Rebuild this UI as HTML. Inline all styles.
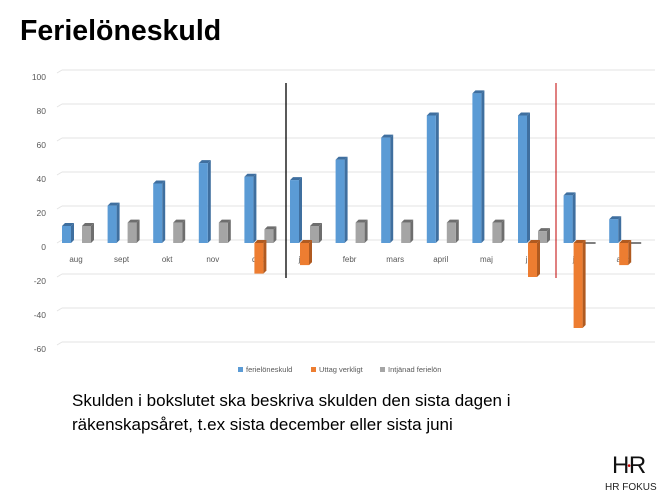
<!DOCTYPE html>
<html><head><meta charset="utf-8"><style>
body{margin:0;width:668px;height:500px;background:#fff;overflow:hidden;font-family:"Liberation Sans",sans-serif;position:relative}
.t{position:absolute;left:20px;top:15px;font-size:28.5px;font-weight:bold;color:#000}
.b{position:absolute;left:72px;top:389px;font-size:17px;line-height:24px;color:#000}
</style></head><body>
<div class="t">Ferielöneskuld</div>
<svg width="668" height="500" style="position:absolute;left:0;top:0">
<g id="g"></g>
</svg>
<div class="b">Skulden i bokslutet ska beskriva skulden den sista dagen i<br>räkenskapsåret, t.ex sista december eller sista juni</div>
<div style="position:absolute;left:612px;top:452px;font-size:24px;letter-spacing:-2px;color:#111">H<span style="color:#c00;font-size:10px;vertical-align:middle">•</span>R</div>
<div style="position:absolute;left:605px;top:482px;font-size:10px;color:#222">HR FOKUS</div>
<script>
var s='',y=v=>240-v*1.7;
for(var v=100;v>=-60;v-=20){var yy=y(v);s+=`<line x1="57" y1="${yy+3}" x2="62" y2="${yy}" stroke="#e3e3e3"/><line x1="62" y1="${yy}" x2="655" y2="${yy}" stroke="#e3e3e3"/><text x="46" y="${yy+10}" font-size="8.5" fill="#595959" text-anchor="end" font-family="Liberation Sans">${v}</text>`;}
var cats=['aug','sept','okt','nov','dec','jan','febr','mars','april','maj','juni','juli','aug'];
var B=[10,22,35,47,39,37,49,62,75,88,75,28,14],O=[0,0,0,0,-18,-13,0,0,0,0,-20,-50,-13],G=[10,12,12,12,8,10,12,12,12,12,7,0,0];
function bar(x,v,c,d){if(!v){return `<rect x="${x}" y="${y(0)+2}" width="12" height="2" fill="#7f7f7f"/>`;}var t=Math.min(y(v),y(0))+3,h=Math.abs(y(v)-y(0));
return `<polygon points="${x+9},${t} ${x+12},${t-3} ${x+12},${t+h-3} ${x+9},${t+h}" fill="${d}"/><polygon points="${x},${t} ${x+3},${t-3} ${x+12},${t-3} ${x+9},${t}" fill="${d}"/><rect x="${x}" y="${t}" width="9" height="${h}" fill="${c}"/>`;}
cats.forEach((n,i)=>{var c=76+i*45.6;
s+=`<text x="${c}" y="262" font-size="8" fill="#595959" text-anchor="middle" font-family="Liberation Sans">${n}</text>`;
s+=bar(c-14,B[i],'#5b9bd5','#3f6f9f');s+=bar(c+6,G[i],'#a5a5a5','#6e6e6e');if(O[i])s+=bar(c-4,O[i],'#ed7d31','#b05a20');});
s+=`<line x1="286" y1="83" x2="286" y2="278" stroke="#000" stroke-width="1.3"/><line x1="556" y1="83" x2="556" y2="278" stroke="#c00000" stroke-width="1"/>`;
var L=[['#5b9bd5','ferielöneskuld',238],['#ed7d31','Uttag verkligt',311],['#a5a5a5','Intjänad ferielön',380]];
L.forEach(l=>{s+=`<rect x="${l[2]}" y="367" width="5" height="5" fill="${l[0]}"/><text x="${l[2]+8}" y="372" font-size="7.5" fill="#595959" font-family="Liberation Sans">${l[1]}</text>`;});
document.getElementById('g').innerHTML=s;
</script>
</body></html>
